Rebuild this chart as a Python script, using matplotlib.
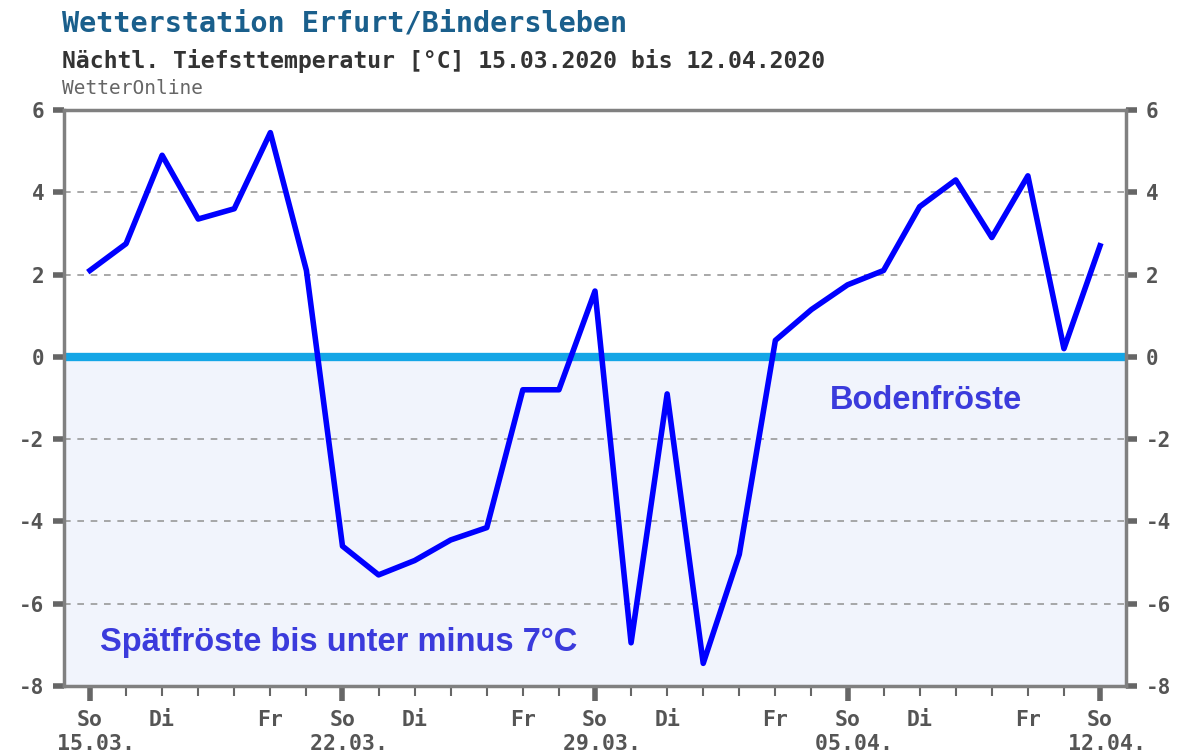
import numpy as np
import matplotlib.pyplot as plt

# Nächtliche Tiefsttemperaturen 15.03.2020 - 12.04.2020
tage = list(range(29))
tmin = [2.1, 2.75, 4.9, 3.35, 3.6, 5.45, 2.1, -4.6, -5.3, -4.95, -4.45, -4.15,
        -0.8, -0.8, 1.6, -6.95, -0.9, -7.45, -4.8, 0.4, 1.15, 1.75, 2.1,
        3.65, 4.3, 2.9, 4.4, 0.2, 2.7]
wochentage = ["So", "", "Di", "", "", "Fr", "", "So", "", "Di", "", "", "Fr", "",
              "So", "", "Di", "", "", "Fr", "", "So", "", "Di", "", "", "Fr", "", "So"]
daten = {0: "15.03.", 7: "22.03.", 14: "29.03.", 21: "05.04.", 28: "12.04."}
y_ticks = [-8, -6, -4, -2, 0, 2, 4, 6]

mono = "DejaVu Sans Mono"
grau = "#555555"

fig = plt.figure(figsize=(11.84, 7.54), dpi=100)
ax = fig.add_axes([64/1184, 68/754, 1062/1184, 576/754])

ax.set_xlim(-0.72, 28.72)
ax.set_ylim(-8, 6)

# Frostbereich
ax.axhspan(-8, 0, color="#f1f4fc", zorder=0)
for y in [-6, -4, -2, 2, 4, 6]:
    ax.axhline(y, color="#999999", lw=1.2, ls=(0, (4, 4)), zorder=1)
ax.axhline(0, color="#14a6e6", lw=6, zorder=2)

ax.plot(tage, tmin, color="#0000ff", lw=4, solid_joinstyle="round", zorder=3)

ax.text(20.5, -1.06, "Bodenfröste", ha="left", va="center", fontsize=23.5,
        fontweight="bold", color="#3b3bdc", family="Liberation Sans")
ax.text(0.28, -6.95, "Spätfröste bis unter minus 7°C", ha="left", va="center",
        fontsize=23.5, fontweight="bold", color="#3b3bdc", family="Liberation Sans")

# Achsen
for s in ax.spines.values():
    s.set_color("#808080")
    s.set_linewidth(2.5)
ax.set_yticks(y_ticks)
ax.set_yticklabels([str(v) for v in y_ticks])
ax.tick_params(axis="y", which="both", left=True, right=True, labelleft=True,
               labelright=True, length=8, width=4, color="#666666", direction="out",
               labelsize=15, labelcolor=grau, pad=6)
for lab in ax.get_yticklabels():
    lab.set_fontweight("bold")
    lab.set_family(mono)

labels = []
for i, w in enumerate(wochentage):
    if i in daten:
        labels.append(w + "\n " + daten[i])
    else:
        labels.append(w)
ax.set_xticks(tage)
ax.set_xticklabels(labels, family=mono, fontweight="bold", fontsize=15.5,
                   color=grau, linespacing=1.25, va="top")
ax.tick_params(axis="x", length=7, width=1.5, color="#666666", direction="out", pad=10)
for i, t in enumerate(ax.xaxis.get_major_ticks()):
    if i % 7 == 0:
        t.tick1line.set_markersize(11)
        t.tick1line.set_markeredgewidth(4)

fig.text(62/1184, 1 - 24/754, "Wetterstation Erfurt/Bindersleben", family=mono,
         fontweight="bold", fontsize=20.5, color="#1a5f8c", va="center", ha="left")
fig.text(62/1184, 1 - 61/754, "Nächtl. Tiefsttemperatur [°C] 15.03.2020 bis 12.04.2020",
         family=mono, fontweight="bold", fontsize=16.7, color="#333333", va="center", ha="left")
fig.text(62/1184, 1 - 89/754, "WetterOnline", family=mono, fontsize=14,
         color="#666666", va="center", ha="left")

fig.savefig("out.png", dpi=100, facecolor="white")
